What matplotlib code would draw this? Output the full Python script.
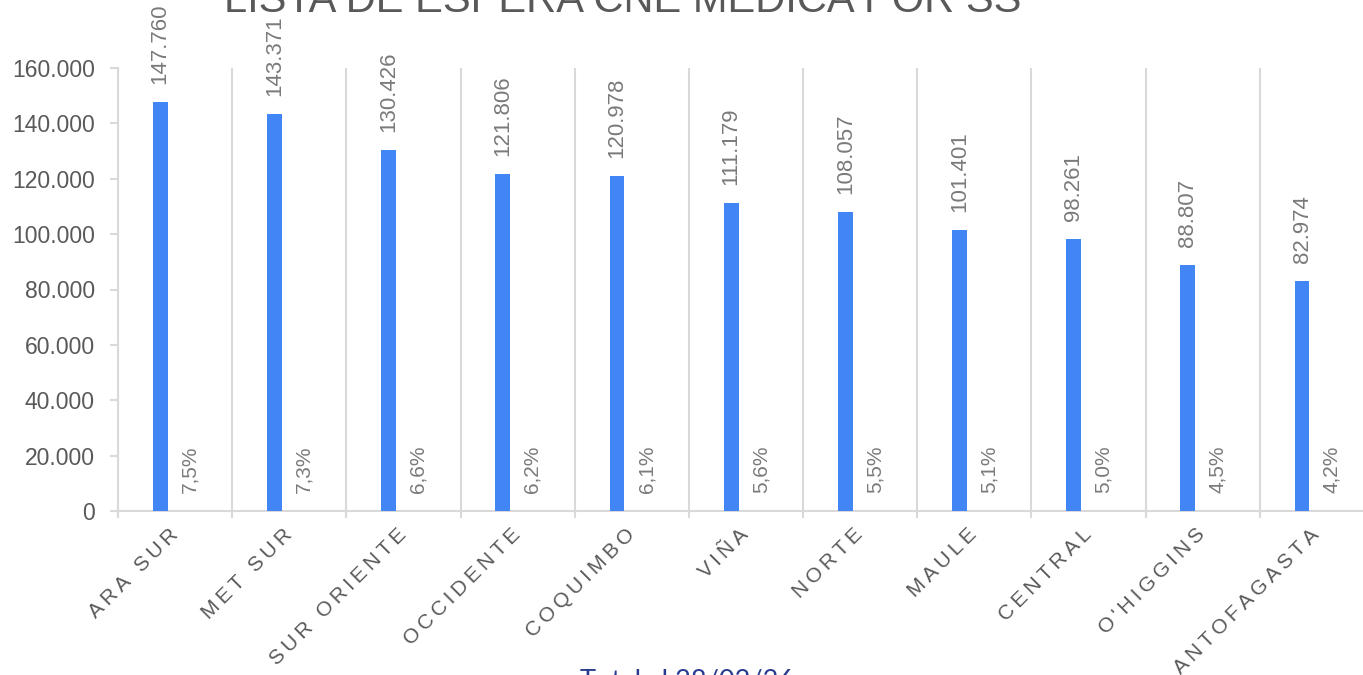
import numpy as np
import matplotlib
matplotlib.use('Agg')
import matplotlib.pyplot as plt
from matplotlib.transforms import ScaledTranslation

plt.rcParams['font.family'] = ['Liberation Sans', 'DejaVu Sans']

# lista de espera por servicio de salud
servicios = ['ARA SUR', 'MET SUR', 'SUR ORIENTE', 'OCCIDENTE', 'COQUIMBO', 'VIÑA',
             'NORTE', 'MAULE', 'CENTRAL', "O'HIGGINS", 'ANTOFAGASTA']
casos = [147760, 143371, 130426, 121806, 120978, 111179, 108057, 101401, 98261, 88807, 82974]
porcentaje = [7.5, 7.3, 6.6, 6.2, 6.1, 5.6, 5.5, 5.1, 5.0, 4.5, 4.2]

azul = '#4285F4'
gris_eje = '#d9d9d9'
gris_txt = '#595959'
gris_lbl = '#7a7a7a'

fig = plt.figure(figsize=(13.63, 6.75), dpi=100)
ax = fig.add_axes([118 / 1363, 1 - 511 / 675, 1256 / 1363, 443 / 675])

x = np.arange(len(servicios))
off = 0.13
bw = 0.13
ax.bar(x - off, casos, width=bw, color=azul, zorder=3)
ax.bar(x + off, np.array(porcentaje) / 100, width=bw, color=azul, zorder=3)

for xi, v, p in zip(x, casos, porcentaje):
    ax.annotate(f'{v:,}'.replace(',', '.'), (xi - off, v), xytext=(0, 18),
                textcoords='offset pixels', rotation=90, ha='center', va='bottom',
                fontsize=16, color=gris_lbl)
    ax.annotate(f'{p:.1f}%'.replace('.', ','), (xi + off, 0), xytext=(0, 18),
                textcoords='offset pixels', rotation=90, ha='center', va='bottom',
                fontsize=15, color=gris_lbl)

ax.set_xlim(-0.5, len(servicios) - 0.5)
ax.set_ylim(0, 160000)
ax.set_yticks(np.arange(0, 160001, 20000))
ax.set_yticklabels([f'{t:,}'.replace(',', '.') for t in range(0, 160001, 20000)],
                   fontsize=16.5, color=gris_txt)
ax.tick_params(axis='y', length=5.8, width=1.5, color=gris_eje, pad=10.8)

ax.set_xticks(x)
ax.set_xticklabels(['\u2009'.join(s) for s in servicios], rotation=45, ha='right',
                   rotation_mode='anchor', fontsize=15, color=gris_txt)
ax.tick_params(axis='x', which='major', length=0, pad=10)
shift = ScaledTranslation(-0.07, 0, fig.dpi_scale_trans)
for lbl in ax.get_xticklabels():
    lbl.set_transform(lbl.get_transform() + shift)
ax.set_xticks(np.arange(-0.5, len(servicios)), minor=True)
ax.tick_params(axis='x', which='minor', length=5, width=1.5, color=gris_eje)
ax.grid(axis='x', which='minor', color=gris_eje, lw=1.5, zorder=0)

for s in ['top', 'right']:
    ax.spines[s].set_visible(False)
for s in ['left', 'bottom']:
    ax.spines[s].set_color(gris_eje)
    ax.spines[s].set_linewidth(1.5)

fig.text(0.457, 1 - 12 / 675, 'LISTA DE ESPERA CNE MÉDICA POR SS', ha='center',
         va='baseline', fontsize=30, color=gris_txt)
fig.text(0.504, 1 - 668 / 675, 'Total al 28/02/26', ha='center', va='top',
         fontsize=19.5, color='#283b8f', family=['Lato', 'DejaVu Sans'])

fig.savefig('out.png', dpi=100)
